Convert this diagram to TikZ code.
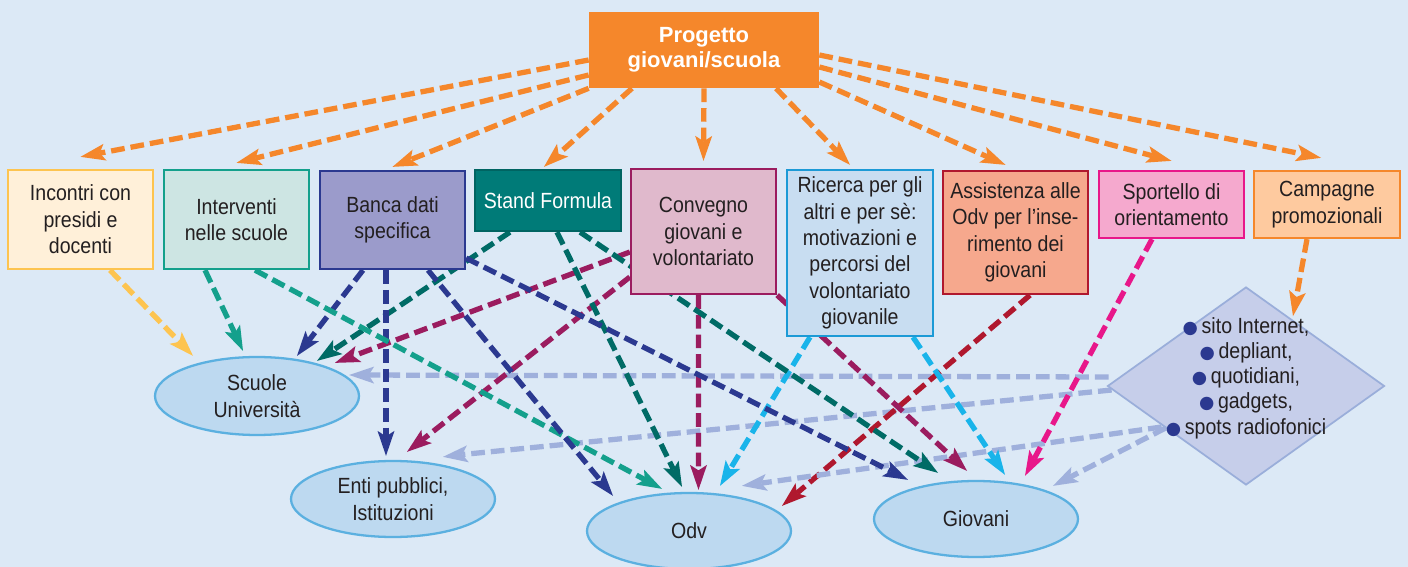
\documentclass[tikz,border=0pt]{standalone}
\usepackage{fontspec}
\setmainfont{Liberation Sans}[FakeStretch=0.89]
\newfontfamily\headfont{Liberation Sans}
\newfontfamily\dotfont{DejaVu Sans}
\usepackage{xcolor}
\definecolor{pgback}{RGB}{220,233,246}
\definecolor{pgtext}{RGB}{35,31,32}
\definecolor{pgorange}{RGB}{245,135,43}
\definecolor{pgincfill}{RGB}{255,240,217}
\definecolor{pgincline}{RGB}{253,196,80}
\definecolor{pgintfill}{RGB}{205,229,227}
\definecolor{pgintline}{RGB}{20,160,140}
\definecolor{pgbancafill}{RGB}{155,155,203}
\definecolor{pgbancaline}{RGB}{43,57,144}
\definecolor{pgstandfill}{RGB}{0,123,120}
\definecolor{pgstandline}{RGB}{0,100,98}
\definecolor{pgstandarrow}{RGB}{0,107,102}
\definecolor{pgconvfill}{RGB}{224,185,204}
\definecolor{pgconvline}{RGB}{155,28,95}
\definecolor{pgricfill}{RGB}{200,221,241}
\definecolor{pgricline}{RGB}{28,154,214}
\definecolor{pgricarrow}{RGB}{25,180,234}
\definecolor{pgassfill}{RGB}{246,168,141}
\definecolor{pgassline}{RGB}{176,24,46}
\definecolor{pgsportfill}{RGB}{245,169,206}
\definecolor{pgsportline}{RGB}{232,23,138}
\definecolor{pgcampfill}{RGB}{254,202,159}
\definecolor{pgmediafill}{RGB}{198,206,234}
\definecolor{pgmedialine}{RGB}{154,174,218}
\definecolor{pgmediaarrow}{RGB}{159,176,220}
\definecolor{pgellfill}{RGB}{189,217,240}
\definecolor{pgellline}{RGB}{91,176,224}
\definecolor{pgbullet}{RGB}{43,57,144}
\usetikzlibrary{arrows.meta,positioning,shapes.geometric,calc}
\pgfdeclarelayer{back}
\pgfdeclarelayer{links}
\pgfsetlayers{back,links,main}
\newcommand{\mbul}{{\color{pgbullet}\dotfont\fontsize{10}{8}\selectfont ●}\,}

\begin{document}
\begin{tikzpicture}[font=\fontsize{12.5}{15}\selectfont,
  every node/.style={text=pgtext},
  box/.style={draw,line width=1.3pt,minimum width=2.9cm,align=center,inner sep=1pt},
  blob/.style={ellipse,draw=pgellline,fill=pgellfill,line width=1.3pt,minimum width=4.08cm,minimum height=1.52cm,align=center,inner sep=0pt},
  link/.style={line width=3pt,dash pattern=on 7.8pt off 3.4pt,-{Stealth[length=0.5cm,width=0.34cm,inset=0.11cm,line width=0pt]}}]
  \useasboundingbox (0,0) rectangle (28.16,11.34);
  \begin{pgfonlayer}{back}
    \fill[pgback] (0,0) rectangle (28.16,11.34);
  \end{pgfonlayer}
  % project and actions
  \node[fill=pgorange,minimum width=4.6cm,minimum height=1.52cm,align=center,text=white,font=\headfont\bfseries\fontsize{12.5}{14.2}\selectfont] (top) at (14.08,10.34) {Progetto\\giovani/scuola};
  \node[box,draw=pgincline,fill=pgincfill,minimum height=1.98cm] (inc) at (1.61,6.95) {Incontri con\\presidi e\\docenti};
  \node[box,draw=pgintline,fill=pgintfill,minimum height=1.98cm] (int) at (4.73,6.95) {Interventi\\nelle scuole};
  \node[box,draw=pgbancaline,fill=pgbancafill,minimum height=1.96cm] (banca) at (7.85,6.94) {Banca dati\\specifica};
  \node[box,draw=pgstandline,fill=pgstandfill,text=white,minimum width=2.92cm,minimum height=1.22cm] (stand) at (10.96,7.33) {Stand Formula};
  \node[box,draw=pgconvline,fill=pgconvfill,minimum height=2.5cm] (conv) at (14.07,6.71) {Convegno\\giovani e\\volontariato};
  \node[box,draw=pgricline,fill=pgricfill,minimum width=2.92cm,minimum height=3.32cm] (ric) at (17.2,6.28) {Ricerca per gli\\altri e per sè:\\motivazioni e\\percorsi del\\volontariato\\giovanile};
  \node[box,draw=pgassline,fill=pgassfill,minimum height=2.46cm] (ass) at (20.31,6.69) {Assistenza alle\\Odv per l’inse-\\rimento dei\\giovani};
  \node[box,draw=pgsportline,fill=pgsportfill,minimum height=1.34cm] (sport) at (23.43,7.25) {Sportello di\\orientamento};
  \node[box,draw=pgorange,fill=pgcampfill,minimum width=2.92cm,minimum height=1.34cm] (camp) at (26.54,7.25) {Campagne\\promozionali};
  % media
  \node[diamond,draw=pgmedialine,fill=pgmediafill,line width=1pt,inner sep=0pt,minimum width=5.54cm,minimum height=3.96cm] (media) at (24.92,3.62) {};
  \node[align=center,font=\fontsize{12.5}{14.4}\selectfont] (medialist) at (24.92,3.78) {\mbul sito Internet,\\\mbul depliant,\\\mbul quotidiani,\\\mbul gadgets,\\\mbul spots radiofonici};
  % targets
  \node[blob,minimum height=1.56cm] (scu) at (5.14,3.42) {Scuole\\Università};
  \node[blob] (enti) at (7.86,1.36) {Enti pubblici,\\Istituzioni};
  \node[blob] (odv) at (13.78,0.72) {Odv};
  \node[blob] (gio) at (19.52,0.96) {Giovani};
  \begin{pgfonlayer}{links}
    % from the project
    \draw[link,pgorange] ([yshift=-0.2cm]top.west) -- ([yshift=0.24cm]inc.north);
    \draw[link,pgorange] ([yshift=-0.5cm]top.west) -- ([yshift=0.12cm]int.north);
    \draw[link,pgorange] (top.south west) -- ([yshift=0.06cm]banca.north);
    \draw[link,pgorange] ([xshift=-1.44cm]top.south) -- ([xshift=-0.08cm,yshift=0.04cm]stand.north);
    \draw[link,pgorange] (top.south) -- ([yshift=0.14cm]conv.north);
    \draw[link,pgorange] ([xshift=1.44cm]top.south) -- ([xshift=-0.2cm,yshift=0.08cm]ric.north);
    \draw[link,pgorange] ([yshift=-0.64cm]top.east) -- ([xshift=-0.2cm,yshift=0.1cm]ass.north);
    \draw[link,pgorange] ([yshift=-0.34cm]top.east) -- ([yshift=0.18cm]sport.north);
    \draw[link,pgorange] ([yshift=-0.1cm]top.east) -- ([xshift=-0.12cm,yshift=0.24cm]camp.north);
    \draw[link,pgorange] ([xshift=-0.4cm]camp.south) -- ([xshift=0.94cm,yshift=-0.6cm]media.north);
    % to Scuole
    \draw[link,pgincline] ([xshift=0.59cm]inc.south) -- ([xshift=-1.28cm]scu.north);
    \draw[link,pgintline] ([xshift=-0.63cm]int.south) -- ([xshift=-0.28cm,yshift=0.1cm]scu.north);
    \draw[link,pgbancaline] ([xshift=-0.59cm]banca.south) -- ([xshift=0.8cm]scu.north);
    \draw[link,pgstandarrow] ([xshift=-0.76cm]stand.south) -- ([xshift=1.2cm,yshift=-0.1cm]scu.north);
    \draw[link,pgconvline] ([yshift=-0.41cm]conv.west) -- ([xshift=1.56cm,yshift=-0.14cm]scu.north);
    \draw[link,pgmediaarrow] ([xshift=0.04cm,yshift=0.18cm]media.west) -- ([xshift=-0.22cm,yshift=0.42cm]scu.east);
    % to Enti
    \draw[link,pgbancaline] ([xshift=-0.13cm]banca.south) -- ([xshift=-0.14cm,yshift=0.08cm]enti.north);
    \draw[link,pgconvline] ([yshift=-0.91cm]conv.west) -- ([xshift=0.28cm,yshift=0.16cm]enti.north);
    \draw[link,pgmediaarrow] ([xshift=0.1cm,yshift=-0.08cm]media.west) -- ([xshift=1.0cm,yshift=0.06cm]enti.north);
    % to Odv
    \draw[link,pgintline] ([xshift=0.37cm]int.south) -- ([xshift=-0.54cm,yshift=0.06cm]odv.north);
    \draw[link,pgbancaline] ([xshift=0.71cm]banca.south) -- ([xshift=-1.52cm,yshift=-0.08cm]odv.north);
    \draw[link,pgstandarrow] ([xshift=0.18cm]stand.south) -- ([xshift=-0.14cm,yshift=0.1cm]odv.north);
    \draw[link,pgconvline] ([xshift=-0.1cm]conv.south) -- ([xshift=0.19cm,yshift=0.04cm]odv.north);
    \draw[link,pgricarrow] ([xshift=-1.0cm]ric.south) -- ([xshift=0.62cm,yshift=0.12cm]odv.north);
    \draw[link,pgassline] ([xshift=0.29cm]ass.south) -- ([xshift=1.86cm,yshift=-0.28cm]odv.north);
    \draw[link,pgmediaarrow] ([xshift=1.1cm,yshift=-0.82cm]media.west) -- ([xshift=1.06cm,yshift=0.12cm]odv.north);
    % to Giovani
    \draw[link,pgbancaline] ([yshift=0.24cm]banca.south east) -- ([xshift=-1.36cm]gio.north);
    \draw[link,pgstandarrow] ([xshift=0.64cm]stand.south) -- ([xshift=-0.76cm,yshift=0.14cm]gio.north);
    \draw[link,pgconvline] (conv.south east) -- ([xshift=-0.18cm,yshift=0.18cm]gio.north);
    \draw[link,pgricarrow] ([xshift=1.06cm]ric.south) -- ([xshift=0.58cm,yshift=0.1cm]gio.north);
    \draw[link,pgsportline] ([xshift=-0.39cm]sport.south) -- ([xshift=0.98cm,yshift=0.08cm]gio.north);
    \draw[link,pgmediaarrow] ([xshift=1.18cm,yshift=-0.84cm]media.west) -- ([xshift=1.54cm,yshift=-0.12cm]gio.north);
  \end{pgfonlayer}
\end{tikzpicture}
\end{document}
